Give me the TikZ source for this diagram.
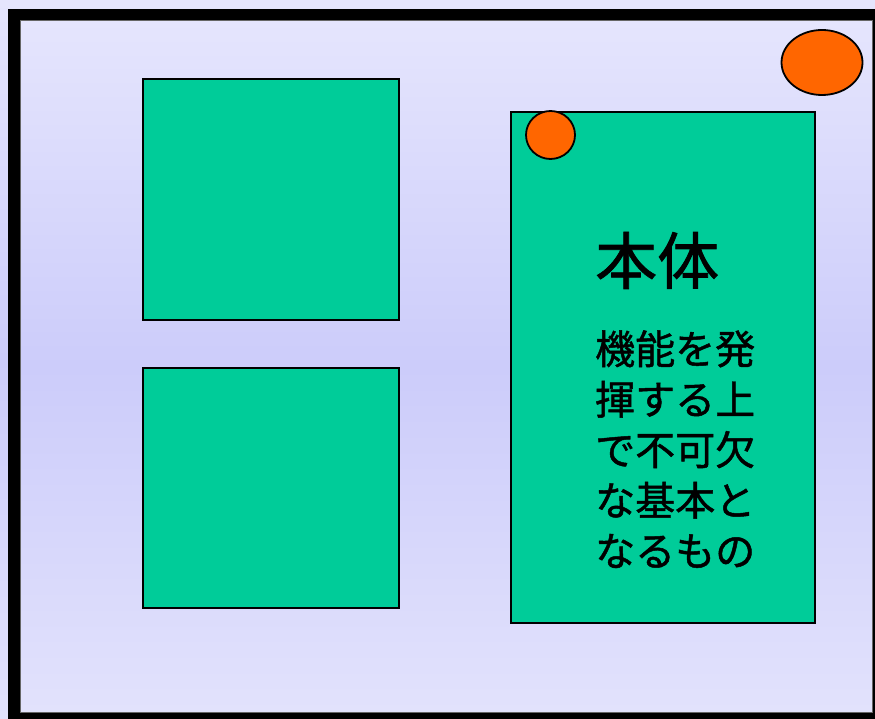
\documentclass[tikz,border=0pt]{standalone}
\usepackage{fontspec}
\usetikzlibrary{shapes.geometric}
\newfontfamily\cjk[FakeBold=1.2]{Noto Sans CJK JP}
\definecolor{lavtop}{RGB}{229,229,253}
\definecolor{lavmid}{RGB}{204,204,250}
\definecolor{lavbot}{RGB}{226,226,252}
\definecolor{boxgreen}{RGB}{0,204,153}
\definecolor{dotorange}{RGB}{255,102,0}
\tikzset{
  panel/.style={fill=boxgreen, draw=black, line width=1.8pt},
  dot/.style={fill=dotorange, draw=black, line width=1.8pt},
  bodytext/.style={inner sep=0pt, anchor=base west, font=\cjk\fontsize{40}{48}\selectfont},
  titletext/.style={inner sep=0pt, anchor=base west, font=\cjk\fontsize{62}{70}\selectfont},
}
\begin{document}
\begin{tikzpicture}[x=1pt,y=-1pt]
\useasboundingbox (0,0) rectangle (875,719);
% page background
\shade[top color=lavtop, bottom color=lavbot, middle color=lavmid] (0,0) rectangle (875,719);
% frame shadow
\fill[black] (8,9) rectangle (875,719);
% slide area
\shade[top color=lavtop, bottom color=lavbot, middle color=lavmid] (20,20.5) rectangle (872.5,712.5);
\draw[black!60, line width=0.6pt] (20,20.5) rectangle (872.5,712.5);
% panels
\node[panel, minimum width=256pt, minimum height=241pt, inner sep=0pt, anchor=north west] (p1) at (142,78) {};
\node[panel, minimum width=256pt, minimum height=240pt, inner sep=0pt, anchor=north west] (p2) at (142,367) {};
\node[panel, minimum width=304pt, minimum height=511pt, inner sep=0pt, anchor=north west] (p3) at (510,111) {};
% orange dots
\node[dot, ellipse, minimum width=49pt, minimum height=48pt, inner sep=0pt] (d1) at (550.5,135) {};
\node[dot, ellipse, minimum width=81pt, minimum height=65pt, inner sep=0pt] (d2) at (822,62.5) {};
% texts
\node[titletext] (t0) at (595,284) {本体};
\node[bodytext] (t1) at (595,364) {機能を発};
\node[bodytext] (t2) at (595,414.5) {揮する上};
\node[bodytext] (t3) at (595,465) {で不可欠};
\node[bodytext] (t4) at (595,515.5) {な基本と};
\node[bodytext] (t5) at (595,566) {なるもの};
\end{tikzpicture}
\end{document}
